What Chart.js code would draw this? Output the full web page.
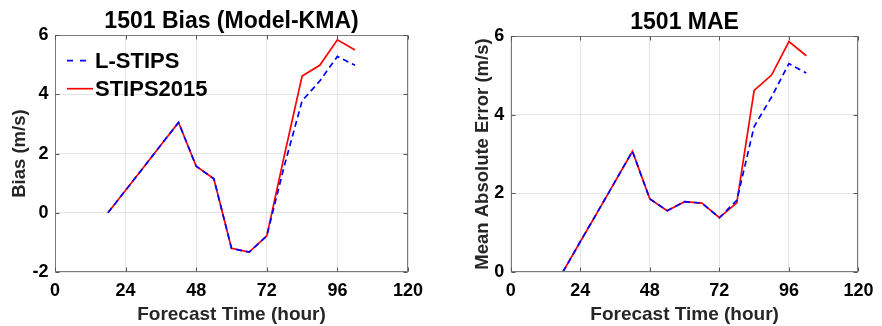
<!DOCTYPE html>
<html>
<head>
<meta charset="utf-8">
<script src="https://cdn.jsdelivr.net/npm/chart.js@4/dist/chart.umd.min.js"></script>
<style>
  html, body { margin: 0; padding: 0; background: #fff; }
  #wrap { position: relative; width: 882px; height: 326px; overflow: hidden; }
  #wrap canvas { position: absolute; top: 0; }
  #bias { left: 0; }
  #mae { left: 441px; }
</style>
</head>
<body>
<div id="wrap">
  <canvas id="bias" width="441" height="326"></canvas>
  <canvas id="mae" width="441" height="326"></canvas>
</div>
<script>
// Forecast lead times (hours)
const hours = [18, 24, 30, 36, 42, 48, 54, 60, 66, 72, 78, 84, 90, 96, 102];

// Bias (model minus KMA), m/s
const biasLstips    = [0, 0.76, 1.52, 2.29, 3.05, 1.57, 1.15, -1.20, -1.33, -0.78, 1.60, 3.78, 4.45, 5.28, 4.98];
const biasStips2015 = [0, 0.76, 1.52, 2.29, 3.05, 1.57, 1.15, -1.20, -1.33, -0.78, 1.95, 4.62, 4.98, 5.84, 5.50];

// Mean absolute error, m/s
const maeLstips    = [0, 0.77, 1.53, 2.30, 3.07, 1.86, 1.56, 1.79, 1.75, 1.38, 1.82, 3.70, 4.45, 5.30, 5.06];
const maeStips2015 = [0, 0.77, 1.53, 2.30, 3.07, 1.86, 1.56, 1.79, 1.75, 1.38, 1.76, 4.62, 5.01, 5.86, 5.50];

const xTicks = [0, 24, 48, 72, 96, 120];
const seriesNames = ['L-STIPS', 'STIPS2015'];

const FONT = "'Liberation Sans', Arial, Helvetica, sans-serif";
const BLUE = '#0000ff';
const RED = '#ff0000';

// Closed axes box with short inward tick marks on every side
const boxFrame = {
  id: 'boxFrame',
  afterDatasetsDraw(chart) {
    const { ctx, chartArea: a, scales } = chart;
    const L = Math.round(a.left) + 0.5, R = Math.round(a.right) - 0.5;
    const T = Math.round(a.top) + 0.5, B = Math.round(a.bottom) - 0.5;
    ctx.save();
    ctx.strokeStyle = '#7a7a7a';
    ctx.lineWidth = 1;
    ctx.strokeRect(L, T, R - L, B - T);
    ctx.strokeStyle = '#555';
    ctx.beginPath();
    scales.x.ticks.forEach(t => {
      const px = Math.round(scales.x.getPixelForValue(t.value)) + 0.5;
      ctx.moveTo(px, B); ctx.lineTo(px, B - 4);
      ctx.moveTo(px, T); ctx.lineTo(px, T + 4);
    });
    scales.y.ticks.forEach(t => {
      const py = Math.round(scales.y.getPixelForValue(t.value)) + 0.5;
      ctx.moveTo(L, py); ctx.lineTo(L + 4, py);
      ctx.moveTo(R, py); ctx.lineTo(R - 4, py);
    });
    ctx.stroke();
    ctx.restore();
  }
};

// Legend drawn inside the upper-left corner of the plot area
const insetLegend = {
  id: 'insetLegend',
  afterDraw(chart, args, opts) {
    if (!opts || !opts.show) return;
    const { ctx, chartArea: a } = chart;
    ctx.save();
    ctx.font = `bold ${opts.fontSize}px ${FONT}`;
    ctx.textBaseline = 'middle';
    ctx.textAlign = 'left';
    chart.data.datasets.forEach((ds, i) => {
      const y = a.top + opts.top + i * opts.spacing;
      const x0 = a.left + opts.lineStart;
      ctx.strokeStyle = ds.borderColor;
      ctx.lineWidth = ds.borderWidth;
      ctx.setLineDash(ds.borderDash ? opts.dash : []);
      ctx.beginPath();
      ctx.moveTo(x0, y);
      ctx.lineTo(x0 + opts.lineLength, y);
      ctx.stroke();
      ctx.setLineDash([]);
      ctx.fillStyle = '#000';
      ctx.fillText(ds.label, a.left + opts.textStart, y + 1);
    });
    ctx.restore();
  }
};

function pairs(values) {
  return hours.map((h, i) => ({ x: h, y: values[i] }));
}

function buildChart(id, cfg) {
  return new Chart(document.getElementById(id), {
    type: 'line',
    data: {
      datasets: [
        { label: seriesNames[0], data: pairs(cfg.lstips), borderColor: BLUE, backgroundColor: BLUE,
          borderWidth: 1.7, borderDash: [6, 4], pointRadius: 0, tension: 0, fill: false },
        { label: seriesNames[1], data: pairs(cfg.stips), borderColor: RED, backgroundColor: RED,
          borderWidth: 1.7, pointRadius: 0, tension: 0, fill: false }
      ]
    },
    options: {
      responsive: false,
      devicePixelRatio: 1,
      animation: false,
      layout: { padding: { left: 0, right: cfg.padRight, top: 0, bottom: 0 } },
      plugins: {
        legend: { display: false },
        tooltip: { enabled: false },
        title: {
          display: true, text: cfg.title, fullSize: false, color: '#000',
          font: { family: FONT, size: 23, weight: 'bold' },
          padding: { top: cfg.titleTop, bottom: 0 }
        },
        insetLegend: cfg.legend
      },
      scales: {
        x: {
          type: 'linear', min: 0, max: 120,
          afterBuildTicks(s) { s.ticks = xTicks.map(v => ({ value: v })); },
          afterFit(s) { s.height = 54; },
          ticks: { color: '#000', padding: 8.5, font: { family: FONT, size: 18, weight: 'bold' } },
          grid: { color: 'rgba(0,0,0,0.10)', drawTicks: false },
          border: { display: false },
          title: { display: true, text: 'Forecast Time (hour)', color: '#262626',
                   font: { family: FONT, size: 19, weight: 'bold' }, padding: { top: 0, bottom: 0 } }
        },
        y: {
          type: 'linear', min: cfg.yMin, max: cfg.yMax,
          afterBuildTicks(s) { s.ticks = cfg.yTicks.map(v => ({ value: v })); },
          afterFit(s) { s.width = cfg.yWidth; },
          ticks: { color: '#000', padding: 6.5, font: { family: FONT, size: 18, weight: 'bold' } },
          grid: { color: 'rgba(0,0,0,0.10)', drawTicks: false },
          border: { display: false },
          title: { display: true, text: cfg.yTitle, color: '#262626',
                   font: { family: FONT, size: 18.5, weight: 'bold' }, padding: { top: cfg.yTitlePad, bottom: 0 } }
        }
      }
    },
    plugins: [boxFrame, insetLegend]
  });
}

buildChart('bias', {
  title: '1501 Bias (Model-KMA)',
  yTitle: 'Bias (m/s)',
  lstips: biasLstips, stips: biasStips2015,
  yMin: -2, yMax: 6, yTicks: [-2, 0, 2, 4, 6],
  yWidth: 55, padRight: 33, titleTop: 7.5, yTitlePad: 8.4,
  legend: { show: true, fontSize: 22, top: 25.6, spacing: 28, lineStart: 12, lineLength: 26, textStart: 40, dash: [6, 7] }
});

buildChart('mae', {
  title: '1501 MAE',
  yTitle: 'Mean Absolute Error (m/s)',
  lstips: maeLstips, stips: maeStips2015,
  yMin: 0, yMax: 6, yTicks: [0, 2, 4, 6],
  yWidth: 69.7, padRight: 19.3, titleTop: 8.5, yTitlePad: 30.4,
  legend: { show: false }
});
</script>
</body>
</html>
